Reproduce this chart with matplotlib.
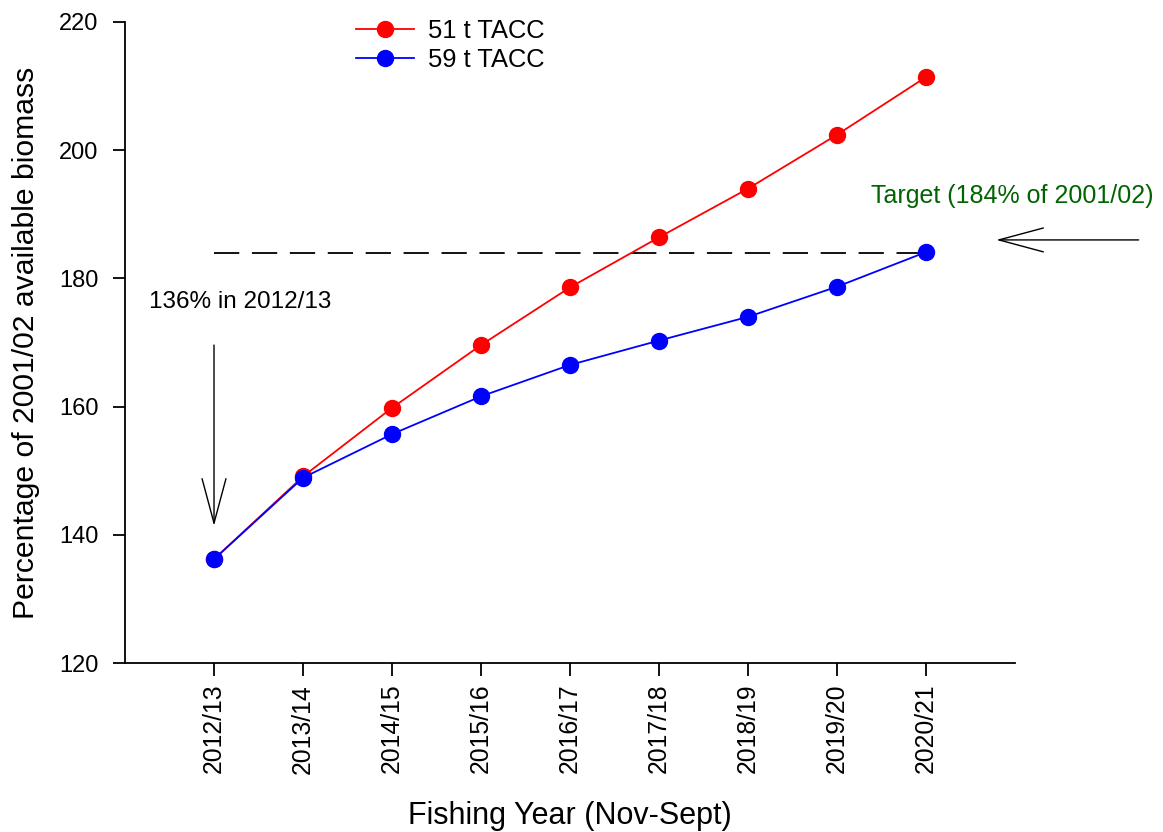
import matplotlib
matplotlib.use("Agg")
import matplotlib.pyplot as plt

plt.rcParams['font.family'] = ['Liberation Sans', 'DejaVu Sans']

years = ["2012/13", "2013/14", "2014/15", "2015/16", "2016/17",
         "2017/18", "2018/19", "2019/20", "2020/21"]
tacc51 = [136.2, 149.1, 159.8, 169.6, 178.6, 186.4, 194.0, 202.4, 211.4]
tacc59 = [136.2, 148.9, 155.7, 161.6, 166.5, 170.3, 174.0, 178.7, 184.1]
target = 184.0

fig = plt.figure(figsize=(11.63, 8.32), dpi=100)
ax = fig.add_axes([0.1075, 0.2031, 0.7652, 0.7705])

x = list(range(len(years)))
ax.plot(x, tacc51, color='#ff0000', marker='o', markersize=11.5, lw=1.3,
        label='51 t TACC', zorder=3)
ax.plot(x, tacc59, color='#0000ff', marker='o', markersize=11.5, lw=1.3,
        label='59 t TACC', zorder=4)
ax.plot([0, 8], [target, target], color='black', lw=1.3,
        dashes=(14, 7), zorder=2)

ax.set_xlim(-1, 9)
ax.set_ylim(120, 220)
ax.set_yticks(range(120, 221, 20))
ax.set_xticks(x)
ax.set_xticklabels(years, rotation=90)
ax.tick_params(axis='both', direction='out', length=9, width=1.3)
ax.tick_params(axis='y', labelsize=17, pad=10)
ax.tick_params(axis='x', labelsize=17.8, pad=6)
for s in ['top', 'right']:
    ax.spines[s].set_visible(False)
for s in ['left', 'bottom']:
    ax.spines[s].set_linewidth(1.3)

ax.set_ylabel('Percentage of 2001/02 available biomass', fontsize=21.7, labelpad=14)
ax.set_xlabel('Fishing Year (Nov-Sept)', fontsize=22, labelpad=20)

ax.legend(loc='upper left', bbox_to_anchor=(0.2336, 1.04), frameon=False,
          fontsize=18.4, handlelength=2.27, handletextpad=0.55, labelspacing=0.2)

ax.text(0.29, 176.3, '136% in 2012/13', fontsize=17.5, ha='center', va='center')
ax.annotate('', xy=(0, 141.4), xytext=(0, 169.6),
            arrowprops=dict(arrowstyle='->,head_length=1.6,head_width=0.43',
                            mutation_scale=20, lw=1.0, color='black',
                            shrinkA=0, shrinkB=0))
ax.text(8.97, 192.9, 'Target (184% of 2001/02)', fontsize=18, ha='center',
        va='center', color='#006400', clip_on=False)
ax.annotate('', xy=(8.79, 186.0), xytext=(10.39, 186.0),
            arrowprops=dict(arrowstyle='->,head_length=1.6,head_width=0.43',
                            mutation_scale=20, lw=1.0, color='black',
                            shrinkA=0, shrinkB=0),
            annotation_clip=False)

fig.savefig('out.png', dpi=100)
